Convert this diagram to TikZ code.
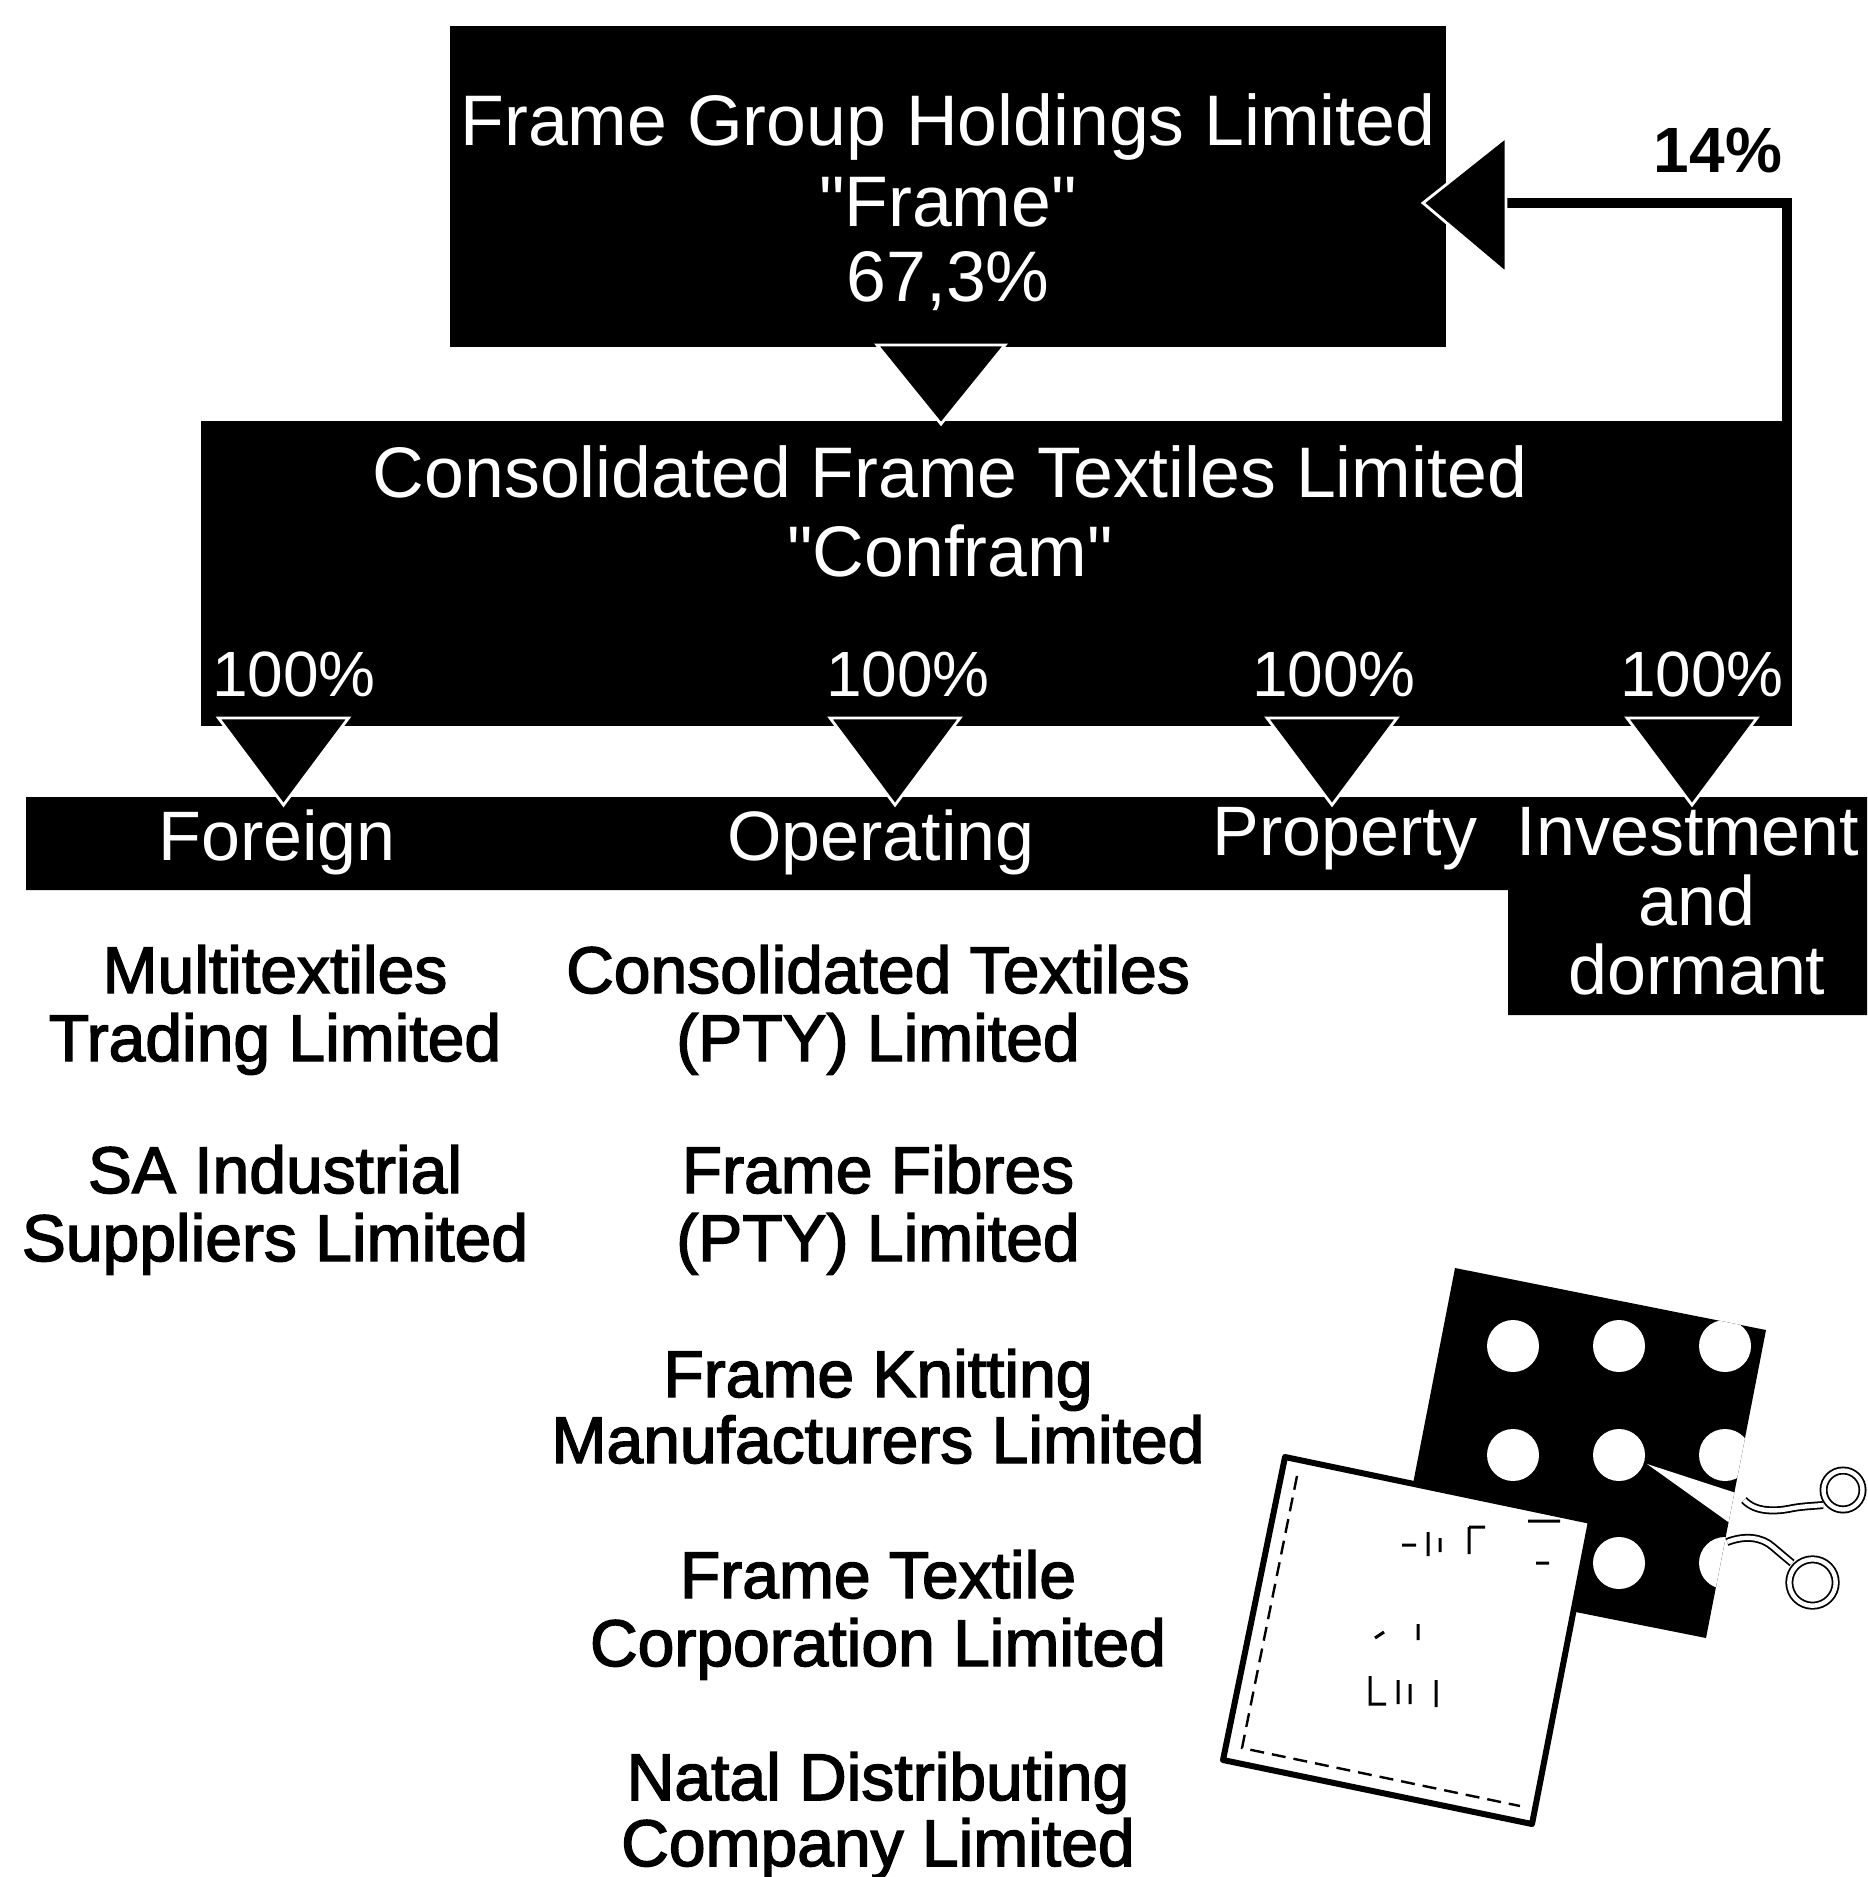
\documentclass[tikz,border=0pt]{standalone}
\usepackage{fontspec}
\setmainfont{Liberation Sans}
\newfontfamily\heavyfont{Liberation Sans}[FakeBold=2.2]
\usetikzlibrary{calc}
\begin{document}
\begin{tikzpicture}[x=0.5pt,y=-0.5pt,
  blackbox/.style={fill=black, draw=none, inner sep=0pt, outer sep=0pt},
  boxtxt/.style={text=white, font=\fontsize{35.8}{42}\selectfont, anchor=base, inner sep=0pt},
  pcttxt/.style={text=white, font=\fontsize{32}{38}\selectfont, anchor=base, inner sep=0pt},
  cattxt/.style={text=white, font=\fontsize{35}{40}\selectfont, anchor=base, inner sep=0pt},
  listtxt/.style={text=black, font=\heavyfont\fontsize{33}{38}\selectfont, anchor=base, inner sep=0pt},
  pointer/.style={fill=black, draw=white, line width=1.4pt, line join=miter},
  feed/.style={draw=black, line width=5pt},
  rim/.style={draw=black, line width=0.9pt, double=white, double distance=2.2pt},
]
\useasboundingbox (0,0) rectangle (1867,1877);

% ---- holding company ----
\node[blackbox, minimum width=498pt, minimum height=160.5pt] (frame) at (948,186.5) {};
\node[boxtxt] (fr1) at (948,146) {Frame Group Holdings Limited};
\node[boxtxt] (fr2) at (948,227) {\textquotedbl Frame\textquotedbl};
\node[boxtxt] (fr3) at (948,302) {67,3\%};

% ---- subsidiary ----
\node[blackbox, minimum width=795.5pt, minimum height=152.5pt] (cf) at (996.5,573.5) {};
\node[boxtxt] (cf1) at (950,497) {Consolidated Frame Textiles Limited};
\node[boxtxt] (cf2) at (950,576) {\textquotedbl Confram\textquotedbl};

% ---- divisions bar ----
\fill[black] (26,797) -- (1867,797) -- (1867,1015) -- (1508,1015) -- (1508,890) -- (26,890) -- cycle;
\node[cattxt] (c1) at (277,860) {Foreign};
\node[cattxt] (c2) at (881,860) {Operating};
\node[cattxt] (c3) at (1345,855) {Property};
\node[cattxt] (c4a) at (1688,855) {Investment};
\node[cattxt] (c4b) at (1697,925) {and};
\node[cattxt] (c4c) at (1697,994) {dormant};

% ---- shareholding pointers ----
\coordinate (t0) at (941,424);
\path[pointer] ($(frame.south)+(-71,-2)$) -- ($(frame.south)+(57,-2)$) -- (t0) -- cycle;

\foreach \n/\cx in {1/283.5,2/895,3/1332,4/1692}{
  \coordinate (b\n) at (\cx,805);
  \path[pointer] (\cx-65,718) -- (\cx+65,718) -- (b\n) -- cycle;
}

\node[pcttxt] (p1) at (294,696) {100\%};
\node[pcttxt] (p2) at (908,696) {100\%};
\node[pcttxt] (p3) at (1334,696) {100\%};
\node[pcttxt] (p4) at (1702,696) {100\%};

% ---- cross holding back to Frame ----
\coordinate (ab) at (1506,203);
\draw[feed] ($(cf.north east)+(-5,2)$) |- (ab);
\path[pointer] (1506,137) -- (1506,273) -- ($(frame.east)+(-23,16.5)$) -- cycle;
\node[font=\bfseries\fontsize{32}{38}\selectfont, anchor=base, inner sep=0pt] (p14) at (1718,173) {14\%};

% ---- company lists ----
\node[listtxt] (f1a) at (275,993) {Multitextiles};
\node[listtxt] (f1b) at (275,1061) {Trading Limited};
\node[listtxt] (f2a) at (275,1193) {SA Industrial};
\node[listtxt] (f2b) at (275,1261) {Suppliers Limited};

\node[listtxt] (o1a) at (878,993) {Consolidated Textiles};
\node[listtxt] (o1b) at (878,1061) {(PTY) Limited};
\node[listtxt] (o2a) at (878,1193) {Frame Fibres};
\node[listtxt] (o2b) at (878,1261) {(PTY) Limited};
\node[listtxt] (o3a) at (878,1397) {Frame Knitting};
\node[listtxt] (o3b) at (878,1463) {Manufacturers Limited};
\node[listtxt] (o4a) at (878,1598) {Frame Textile};
\node[listtxt] (o4b) at (878,1666) {Corporation Limited};
\node[listtxt] (o5a) at (878,1800) {Natal Distributing};
\node[listtxt] (o5b) at (878,1866) {Company Limited};

% ---- fabric swatches and scissors ----
\fill[black] (1455,1268) -- (1766,1330) -- (1706,1638) -- (1395,1576) -- cycle;
\begin{scope}
  \clip (1455,1268) -- (1766,1330) -- (1706,1638) -- (1395,1576) -- cycle;
  \foreach \cx in {1513,1619,1725}{
    \foreach \cy in {1346,1455,1563}{
      \fill[white] (\cx,\cy) circle[radius=26];
    }
  }
  % blade crossing the dark swatch
  \fill[white] (1647,1464) -- (1736,1493) -- (1731,1524) -- cycle;
\end{scope}

\filldraw[fill=white, draw=black, line width=3pt, line join=round]
  (1285,1457) -- (1591,1521) -- (1532,1824) -- (1223,1760) -- cycle;
\draw[black, line width=1.2pt, dash pattern=on 7pt off 4pt]
  (1297,1476) -- (1242,1748) -- (1520,1806);
\draw[black, line width=1.5pt]
  (1402,1545) -- (1416,1545) (1428,1532) -- (1428,1556) (1440,1538) -- (1440,1552)
  (1469,1527) -- (1469,1554) (1469,1527) -- (1485,1527)
  (1528,1521) -- (1560,1521) (1536,1563) -- (1549,1563)
  (1370,1676) -- (1370,1704) -- (1386,1704) (1398,1680) -- (1398,1704)
  (1410,1684) -- (1410,1704) (1436,1680) -- (1436,1707)
  (1375,1638) -- (1384,1632) (1418,1624) -- (1418,1640);

% scissors handles
\draw[rim, line join=round] (1744,1500) .. controls (1755,1512) and (1775,1512) .. (1793,1508)
  .. controls (1805,1506) and (1813,1506) .. (1823,1505);
\draw[rim, line join=round] (1727,1542) .. controls (1745,1535) and (1762,1537) .. (1773,1547)
  .. controls (1780,1553) and (1786,1558) .. (1792,1563);
\draw[rim] (1843,1490) circle[radius=19.5];
\draw[rim] (1812.5,1582.5) circle[radius=23.2];
\end{tikzpicture}
\end{document}
